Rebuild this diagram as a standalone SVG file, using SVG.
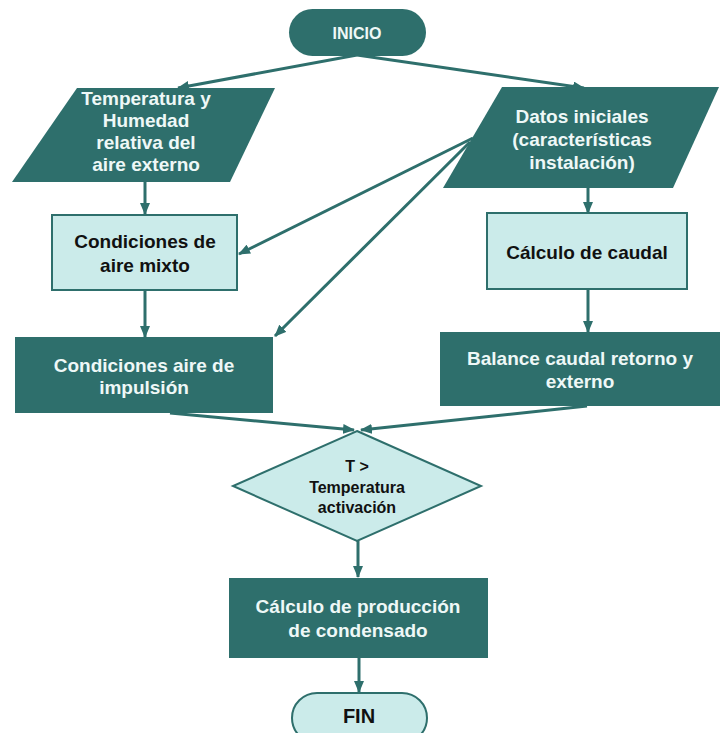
<svg xmlns="http://www.w3.org/2000/svg" width="720" height="733" viewBox="0 0 720 733">
<style>
.dark{fill:#2e6f6c;stroke:none}
.light{fill:#cbebea;stroke:#2e6f6c;stroke-width:2}
.t{font-family:"Liberation Sans",Arial,sans-serif;font-weight:bold;text-anchor:middle}
.w{fill:#eef8f7}
.b{fill:#111}
.c{stroke:#2e6f6c;stroke-width:3;fill:none;marker-end:url(#ah)}
</style>
<defs>
<marker id="ah" markerUnits="userSpaceOnUse" markerWidth="12" markerHeight="10" refX="11" refY="5" orient="auto">
<path d="M0,0 L12,5 L0,10 Z" fill="#2e6f6c"/>
</marker>
</defs>
<rect width="720" height="733" fill="#fff"/>
<g id="connectors">
<line class="c" x1="357" y1="55" x2="178" y2="88"/>
<line class="c" x1="357" y1="55" x2="584" y2="88"/>
<line class="c" x1="145" y1="182" x2="145" y2="214"/>
<line class="c" x1="588" y1="188" x2="588" y2="213"/>
<line class="c" x1="473" y1="138" x2="239" y2="254"/>
<line class="c" x1="470" y1="142" x2="275" y2="336"/>
<line class="c" x1="145" y1="290" x2="145" y2="337"/>
<line class="c" x1="588" y1="289" x2="588" y2="332"/>
<line class="c" x1="170" y1="413" x2="354" y2="430"/>
<line class="c" x1="587" y1="406" x2="361" y2="430"/>
<line class="c" x1="358" y1="541" x2="358" y2="577"/>
<line class="c" x1="359" y1="657" x2="359" y2="692"/>
</g>
<g id="inicio">
<rect class="dark" x="289" y="9" width="137" height="47" rx="23.5"/>
<text class="t w" x="357" y="39" font-size="16">INICIO</text>
</g>
<g id="temp-humedad">
<polygon class="dark" points="77,88 275,88 230,182 12,182"/>
<g class="t w" font-size="19">
<text x="146" y="105">Temperatura y</text>
<text x="146" y="127">Humedad</text>
<text x="146" y="149">relativa del</text>
<text x="146" y="171">aire externo</text>
</g>
</g>
<g id="datos-iniciales">
<polygon class="dark" points="502,87 719,87 673,188 443,188"/>
<g class="t w" font-size="19">
<text x="582" y="123">Datos iniciales</text>
<text x="582" y="146">(características</text>
<text x="582" y="169">instalación)</text>
</g>
</g>
<g id="aire-mixto">
<rect class="light" x="52" y="215" width="185" height="75"/>
<g class="t b" font-size="19">
<text x="145" y="248">Condiciones de</text>
<text x="145" y="272">aire mixto</text>
</g>
</g>
<g id="calculo-caudal">
<rect class="light" x="487" y="213" width="200" height="76"/>
<text class="t b" x="587" y="259" font-size="19">Cálculo de caudal</text>
</g>
<g id="aire-impulsion">
<rect class="dark" x="15" y="337" width="258" height="76"/>
<g class="t w" font-size="19">
<text x="144" y="372">Condiciones aire de</text>
<text x="144" y="394">impulsión</text>
</g>
</g>
<g id="balance-caudal">
<rect class="dark" x="440" y="332" width="280" height="74"/>
<g class="t w" font-size="19">
<text x="580" y="365">Balance caudal retorno y</text>
<text x="580" y="388">externo</text>
</g>
</g>
<g id="decision">
<polygon class="light" points="357,431 481,486 357,541 233,486"/>
<g class="t b" font-size="16">
<text x="357" y="472">T &gt;</text>
<text x="357" y="493">Temperatura</text>
<text x="357" y="513">activación</text>
</g>
</g>
<g id="produccion-condensado">
<rect class="dark" x="229" y="578" width="259" height="80"/>
<g class="t w" font-size="19">
<text x="358" y="613">Cálculo de producción</text>
<text x="358" y="637">de condensado</text>
</g>
</g>
<g id="fin">
<rect class="light" x="292" y="693" width="135" height="50" rx="25"/>
<text class="t b" x="359" y="723" font-size="20">FIN</text>
</g>
</svg>
